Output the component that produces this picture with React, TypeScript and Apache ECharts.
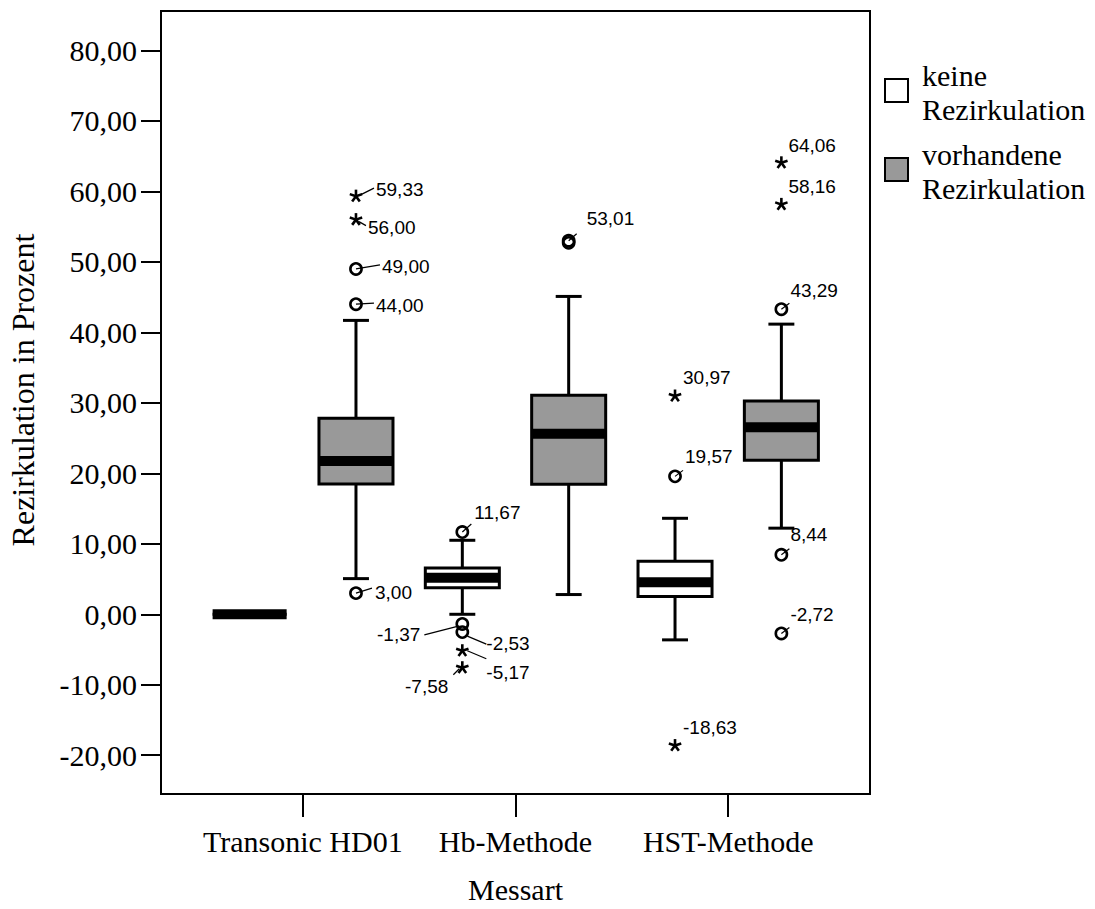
import { useEffect, useRef } from "react";
import * as echarts from "echarts";

// ---------- data ----------
const categories = ["Transonic HD01", "Hb-Methode", "HST-Methode"];
const groupNames = ["keine Rezirkulation", "vorhandene Rezirkulation"];
const yTicks = [-20, -10, 0, 10, 20, 30, 40, 50, 60, 70, 80];
const xTitle = "Messart";
const yTitle = "Rezirkulation in Prozent";

// [lower whisker, Q1, median, Q3, upper whisker] per category
const keineStats = [
  [0, 0, 0, 0, 0],
  [0.0, 3.75, 5.2, 6.56, 10.5],
  [-3.63, 2.53, 4.54, 7.52, 13.62],
];
const vorhandenStats = [
  [5.06, 18.5, 21.75, 27.8, 41.7],
  [2.8, 18.46, 25.6, 31.07, 45.1],
  [12.22, 21.85, 26.54, 30.26, 41.17],
];

// outliers: [category index, value, kind]  kind "o" = outlier, "*" = extreme
const keineOutliers: [number, number, string][] = [
  [1, 11.67, "o"],
  [1, -1.37, "o"],
  [1, -2.53, "o"],
  [1, -5.17, "*"],
  [1, -7.58, "*"],
  [2, 30.97, "*"],
  [2, 19.57, "o"],
  [2, -18.63, "*"],
];
const vorhandenOutliers: [number, number, string][] = [
  [0, 59.33, "*"],
  [0, 56.0, "*"],
  [0, 49.0, "o"],
  [0, 44.0, "o"],
  [0, 3.0, "o"],
  [1, 53.01, "o"],
  [1, 52.7, "o"],
  [2, 64.06, "*"],
  [2, 58.16, "*"],
  [2, 43.29, "o"],
  [2, 8.44, "o"],
  [2, -2.72, "o"],
];

// ---------- label layout (pixel offsets from the marker) ----------
type LL = { dx: number; dy: number; align: string; line?: number[] } | null;
const keineLabelLayout: LL[] = [
  { dx: 12, dy: -20, align: "left", line: [0, 0, 9, -8] },
  { dx: -42, dy: 11, align: "right", line: [-3, 2, -38, 11] },
  { dx: 24, dy: 11, align: "left", line: [5, 4, 24, 12] },
  { dx: 24, dy: 22, align: "left", line: [5, 0, 24, 8] },
  { dx: -14, dy: 19, align: "right", line: [-3, 1, -9, 7] },
  { dx: 8, dy: -19, align: "left" },
  { dx: 10, dy: -20, align: "left", line: [0, 0, 8, -6] },
  { dx: 8, dy: -18, align: "left" },
];
const vorhandenLabelLayout: LL[] = [
  { dx: 20, dy: -7, align: "left", line: [4, -1, 18, -8] },
  { dx: 12, dy: 8, align: "left", line: [3, 2, 10, 6] },
  { dx: 26, dy: -2, align: "left", line: [0, 0, 24, -4] },
  { dx: 20, dy: 1, align: "left", line: [0, 0, 18, -1] },
  { dx: 19, dy: -1, align: "left", line: [0, 0, 16, -5] },
  { dx: 18, dy: -22, align: "left", line: [0, 0, 8, -7] },
  null,
  { dx: 7, dy: -17, align: "left" },
  { dx: 7, dy: -18, align: "left" },
  { dx: 9, dy: -19, align: "left", line: [0, 0, 8, -6] },
  { dx: 9, dy: -20, align: "left", line: [0, 0, 8, -6] },
  { dx: 9, dy: -19, align: "left", line: [0, 0, 8, -6] },
];

const SERIF = '"Liberation Serif", "Times New Roman", serif';
const SANS = '"Liberation Sans", Arial, sans-serif';
const GREY = "#999999";
const GROUP_OFFSET = 0.25;
const BOX_W = 0.348;
const CAP_W = 0.122;

const fmt = (v: number) => v.toFixed(2).replace(".", ",");

function boxSeries(stats: number[][], offset: number, fill: string, name: string) {
  return {
    type: "custom",
    name,
    data: stats.map((s, i) => [i + 1 + offset, ...s]),
    encode: { x: 0, y: [1, 2, 3, 4, 5] },
    clip: false,
    renderItem: (_p: any, api: any) => {
      const x = api.value(0);
      const v = [1, 2, 3, 4, 5].map((i) => api.value(i));
      const p = v.map((val) => api.coord([x, val]));
      const cx = p[2][0];
      const bw = api.size([BOX_W, 0])[0];
      const cw = api.size([CAP_W, 0])[0];
      const lw = 3;
      const stroke = { stroke: "#000", lineWidth: lw };
      return {
        type: "group",
        children: [
          { type: "line", shape: { x1: cx, y1: p[3][1], x2: cx, y2: p[4][1] }, style: stroke },
          { type: "line", shape: { x1: cx, y1: p[1][1], x2: cx, y2: p[0][1] }, style: stroke },
          { type: "line", shape: { x1: cx - cw / 2, y1: p[4][1], x2: cx + cw / 2, y2: p[4][1] }, style: stroke },
          { type: "line", shape: { x1: cx - cw / 2, y1: p[0][1], x2: cx + cw / 2, y2: p[0][1] }, style: stroke },
          {
            type: "rect",
            shape: { x: cx - bw / 2, y: p[3][1], width: bw, height: p[1][1] - p[3][1] },
            style: { fill, stroke: "#000", lineWidth: lw },
          },
          {
            type: "rect",
            shape: { x: cx - bw / 2, y: p[2][1] - 5, width: bw, height: 10 },
            style: { fill: "#000" },
          },
        ],
      };
    },
  };
}

function outlierSeries(outs: [number, number, string][], layout: LL[], offset: number, name: string) {
  return {
    type: "custom",
    name,
    data: outs.map((o, i) => [o[0] + 1 + offset, o[1], o[2] === "*" ? 1 : 0, i]),
    encode: { x: 0, y: 1 },
    clip: false,
    renderItem: (_p: any, api: any) => {
      const x = api.value(0);
      const val = api.value(1);
      const kind = api.value(2);
      const idx = api.value(3);
      const [mx, my] = api.coord([x, val]);
      const children: any[] = [];
      const ll = layout[idx];
      if (ll && ll.line) {
        children.push({
          type: "line",
          shape: { x1: mx + ll.line[0], y1: my + ll.line[1], x2: mx + ll.line[2], y2: my + ll.line[3] },
          style: { stroke: "#000", lineWidth: 1.2 },
        });
      }
      if (kind === 1) {
        const r = 6.5;
        for (let k = 0; k < 5; k++) {
          const a = (-90 + k * 72) * (Math.PI / 180);
          children.push({
            type: "line",
            shape: { x1: mx, y1: my, x2: mx + r * Math.cos(a), y2: my + r * Math.sin(a) },
            style: { stroke: "#000", lineWidth: 2.6, lineCap: "butt" },
          });
        }
      } else {
        children.push({
          type: "circle",
          shape: { cx: mx, cy: my, r: 5.6 },
          style: { fill: "none", stroke: "#000", lineWidth: 2.6 },
        });
      }
      if (ll) {
        children.push({
          type: "text",
          style: {
            text: fmt(val),
            x: mx + ll.dx,
            y: my + ll.dy,
            align: ll.align,
            verticalAlign: "middle",
            font: `19px ${SANS}`,
            fill: "#000",
          },
        });
      }
      return { type: "group", children };
    },
  };
}

export default function App() {
  const ref = useRef<HTMLDivElement>(null);
  useEffect(() => {
    if (!ref.current) return;
    const chart = echarts.init(ref.current, undefined, { renderer: "svg" });
    const legendItems = groupNames.map((g, i) => {
      const words = g.split(" ");
      const yTop = i === 0 ? 79 : 158;
      return [
        {
          type: "rect",
          shape: { x: 885, y: yTop, width: 23, height: 23 },
          style: { fill: i === 0 ? "#fff" : GREY, stroke: "#000", lineWidth: 2 },
        },
        {
          type: "text",
          style: { text: words[0], x: 922, y: yTop - 4, font: `30px ${SERIF}`, fill: "#000", verticalAlign: "middle" },
        },
        {
          type: "text",
          style: { text: words[1], x: 922, y: yTop + 30, font: `30px ${SERIF}`, fill: "#000", verticalAlign: "middle" },
        },
      ];
    });
    chart.setOption({
      animation: false,
      backgroundColor: "#fff",
      grid: {
        left: 161,
        top: 11,
        width: 709,
        height: 790,
        show: true,
        borderColor: "#000",
        borderWidth: 2,
        containLabel: false,
      },
      xAxis: {
        type: "value",
        min: 1 / 3,
        max: 11 / 3,
        name: xTitle,
        nameLocation: "middle",
        nameGap: 80,
        nameTextStyle: { fontFamily: SERIF, fontSize: 30, color: "#000" },
        axisLine: { show: true, onZero: false, lineStyle: { color: "#000", width: 2 } },
        axisTick: { show: true, customValues: [1, 2, 3], length: 23, lineStyle: { color: "#000", width: 2 } },
        axisLabel: {
          customValues: [1, 2, 3],
          formatter: (v: number) => categories[Math.round(v) - 1] ?? "",
          fontFamily: SERIF,
          fontSize: 30,
          color: "#000",
          margin: 32,
        },
        splitLine: { show: false },
      },
      yAxis: {
        type: "value",
        min: -25.5,
        max: 85.6,
        axisLine: { show: true, onZero: false, lineStyle: { color: "#000", width: 2 } },
        axisTick: { show: true, customValues: yTicks, length: 20, lineStyle: { color: "#000", width: 2 } },
        axisLabel: {
          customValues: yTicks,
          formatter: (v: number) => fmt(v),
          fontFamily: SERIF,
          fontSize: 30,
          color: "#000",
          margin: 24,
        },
        splitLine: { show: false },
      },
      graphic: [
        ...legendItems.flat(),
        {
          type: "text",
          x: 23,
          y: 390,
          rotation: Math.PI / 2,
          style: {
            text: yTitle,
            font: `32px ${SERIF}`,
            fill: "#000",
            align: "center",
            verticalAlign: "middle",
          },
        },
      ],
      series: [
        boxSeries(keineStats, -GROUP_OFFSET, "#fff", groupNames[0]),
        boxSeries(vorhandenStats, GROUP_OFFSET, GREY, groupNames[1]),
        outlierSeries(keineOutliers, keineLabelLayout, -GROUP_OFFSET, groupNames[0] + " Ausreißer"),
        outlierSeries(vorhandenOutliers, vorhandenLabelLayout, GROUP_OFFSET, groupNames[1] + " Ausreißer"),
      ],
    });
    return () => chart.dispose();
  }, []);
  return <div ref={ref} style={{ width: 1095, height: 909, position: "absolute", left: 0, top: 0 }} />;
}
